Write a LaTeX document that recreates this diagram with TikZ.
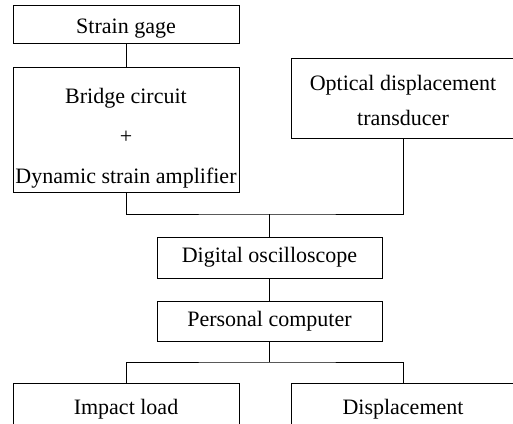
\documentclass[tikz,border=0pt]{standalone}
\usepackage{fontspec}
\setmainfont{Liberation Serif}
\usetikzlibrary{positioning,calc}

\begin{document}
\begin{tikzpicture}[
  x=1pt, y=-1pt,
  box/.style={draw, line width=0.9pt, align=center, inner sep=0pt,
              font=\fontsize{22}{35}\selectfont},
  wide/.style={box, minimum width=226pt},
  link/.style={line width=0.9pt},
]
\useasboundingbox (0,0) rectangle (513,423);
\clip (0,0) rectangle (513,423);

% strain path (left)
\node[wide, text height=28pt, text depth=10pt] (gage) at (126,24) {Strain gage};
\node[wide, minimum height=125pt] (bridge) at (126,129.5)
  {\rule{0pt}{36pt}Bridge circuit\\[5pt]+\\[5pt]Dynamic strain amplifier\rule[-9pt]{0pt}{0pt}};

% displacement path (right)
\node[wide, minimum width=224pt, minimum height=80pt] (optical) at (403,98)
  {\rule{0pt}{32pt}Optical displacement\\transducer\rule[-13pt]{0pt}{0pt}};

% recording
\node[box, minimum width=225pt, minimum height=41pt] (osc) at (269.5,257.5) {Digital oscilloscope};
\node[box, minimum width=225pt, minimum height=40pt] (pc) at (269.5,321) {Personal computer};

% results (bottom, run off the page)
\node[wide, anchor=north, text height=31pt, text depth=40pt] (impact) at (126,383) {Impact load};
\node[wide, anchor=north, minimum width=224pt, text height=31pt, text depth=40pt] (disp) at (403,383) {Displacement};

% connectors
\coordinate (join) at (269.5,214);
\coordinate (split) at (269.5,362);
\draw[link] (gage) -- (bridge);
\draw[link] (bridge.south) |- (join) -| (optical.south);
\draw[link] (join) -- (osc.north);
\draw[link] (osc) -- (pc);
\draw[link] (pc) -- (split);
\draw[link] (impact.north) |- (split) -| (disp.north);
\end{tikzpicture}
\end{document}
